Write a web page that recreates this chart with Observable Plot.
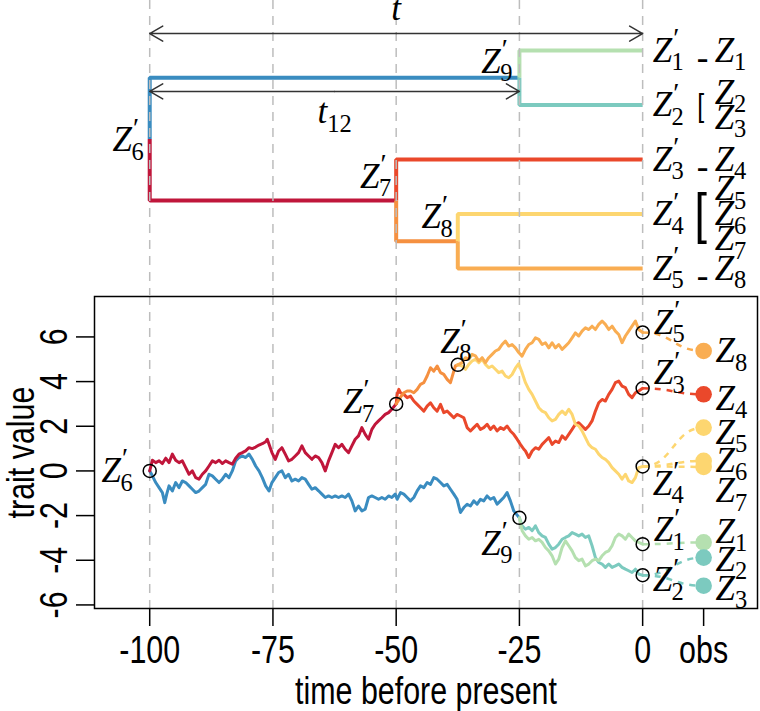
<!DOCTYPE html>
<html><head><meta charset="utf-8">
<script src="https://cdn.jsdelivr.net/npm/d3@7"></script>
<script src="https://cdn.jsdelivr.net/npm/@observablehq/plot@0.6"></script>
<style>
body{margin:0;background:#fff;}
#chart svg{display:block;}
</style></head><body><div id="chart"></div>
<script>
// ---------------- DATA ----------------
const gridTimes = [-100, -75, -50, -25, 0];
const obsTime = 12.37;
const yTicks = [-6, -4, -2, 0, 2, 4, 6];

// tree nodes (time before present, row in tip units)
const treeNodes = [
  {name: "Z'_6", time: -100, row: 2.625},
  {name: "Z'_7", time: -50, row: 3.75},
  {name: "Z'_8", time: -37.5, row: 4.5},
  {name: "Z'_9", time: -25, row: 1.5},
  {name: "Z'_1", time: 0, row: 1},
  {name: "Z'_2", time: 0, row: 2},
  {name: "Z'_3", time: 0, row: 3},
  {name: "Z'_4", time: 0, row: 4},
  {name: "Z'_5", time: 0, row: 5}
];
const treeEdges = [
  ["Z'_6", "Z'_9"], ["Z'_6", "Z'_7"], ["Z'_9", "Z'_1"], ["Z'_9", "Z'_2"],
  ["Z'_7", "Z'_3"], ["Z'_7", "Z'_8"], ["Z'_8", "Z'_4"], ["Z'_8", "Z'_5"]
];
const spans = [
  {name: "t", from: -100, to: 0},
  {name: "t_12", from: -100, to: -25}
];

// trait values at nodes
const nodeValue = {"Z'_6": 0, "Z'_7": 3.0, "Z'_8": 4.75, "Z'_9": -2.1,
  "Z'_1": -3.28, "Z'_2": -4.67, "Z'_3": 3.7, "Z'_4": 0.2, "Z'_5": 6.2};

// observations
const observations = [
  {name: "Z_1", value: -3.2, from: "Z'_1"},
  {name: "Z_2", value: -3.88, from: "Z'_2"},
  {name: "Z_3", value: -5.14, from: "Z'_2"},
  {name: "Z_4", value: 3.43, from: "Z'_3"},
  {name: "Z_5", value: 1.94, from: "Z'_4"},
  {name: "Z_6", value: 0.45, from: "Z'_4"},
  {name: "Z_7", value: 0.18, from: "Z'_4"},
  {name: "Z_8", value: 5.37, from: "Z'_5"}
];

// Brownian paths [time, value]
const walkZ6Z7 = [[-100,0],[-99.45,0.48],[-98.78,0.37],[-98.1,0.45],[-97.43,0.33],[-96.75,0.57],[-96.08,0.37],[-95.4,0.75],[-94.73,0.48],[-94.05,0.37],[-93.38,0.45],[-92.7,0.15],[-92.02,-0.15],[-91.35,0],[-90.67,-0.3],[-90,-0.37],[-89.32,-0.15],[-88.65,0],[-87.97,0.22],[-87.29,0.45],[-86.62,0.37],[-85.94,0.48],[-85.27,0.33],[-84.59,0.45],[-83.91,0.37],[-83.24,0.3],[-82.56,0.57],[-81.89,0.75],[-81.21,0.82],[-80.54,0.9],[-79.86,1.04],[-79.18,1.0],[-78.51,1.07],[-77.83,1.16],[-77.16,1.22],[-76.48,1.31],[-76.15,1.42],[-75.2,0.82],[-74.53,0.52],[-73.85,0.89],[-73.18,1.04],[-72.5,0.75],[-71.83,0.45],[-71.15,0.52],[-70.47,0.67],[-69.8,0.82],[-69.12,1.12],[-68.45,0.82],[-67.77,0.67],[-67.1,0.52],[-66.42,0.67],[-65.75,0.6],[-65.07,0.37],[-64.39,0],[-63.72,0.45],[-63.04,0.82],[-62.37,1.19],[-61.69,1.04],[-61.01,1.19],[-60.34,0.97],[-59.66,0.82],[-58.99,1.12],[-58.31,1.42],[-57.64,1.57],[-56.96,1.94],[-56.28,1.64],[-55.61,1.42],[-54.93,1.86],[-54.26,2.09],[-53.58,2.24],[-52.91,2.38],[-52.23,2.53],[-51.55,2.61],[-50.88,2.76],[-50,3.0]];
const walkZ6Z9 = [[-100,0],[-99.45,-0.22],[-98.78,-0.52],[-98.1,-0.75],[-97.43,-0.97],[-96.95,-1.42],[-96.55,-1.04],[-96.08,-0.67],[-95.4,-0.9],[-94.73,-0.52],[-94.05,-0.75],[-93.38,-0.45],[-92.7,-0.52],[-92.02,-0.67],[-91.35,-0.82],[-90.67,-0.97],[-90,-0.9],[-89.32,-0.75],[-88.65,-0.6],[-87.97,-0.15],[-87.29,-0.22],[-86.62,-0.37],[-85.94,-0.52],[-85.27,-0.37],[-84.59,-0.15],[-83.91,-0.3],[-83.24,0],[-82.56,0.45],[-81.89,0.6],[-81.21,0.67],[-80.54,0.6],[-79.86,0.75],[-79.18,0.52],[-78.51,0.22],[-77.83,0],[-77.16,-0.3],[-76.48,-0.67],[-75.8,-0.9],[-75.2,-0.52],[-74.53,-0.3],[-73.85,-0.07],[-73.18,0],[-72.5,-0.3],[-71.83,-0.15],[-71.15,-0.45],[-70.47,-0.37],[-69.8,-0.45],[-69.12,-0.3],[-68.45,-0.37],[-67.77,-0.6],[-67.1,-0.82],[-66.42,-0.75],[-65.75,-0.89],[-65.07,-1.04],[-64.39,-1.19],[-63.72,-1.12],[-63.04,-1.19],[-62.37,-1.12],[-61.69,-1.19],[-61.01,-1.12],[-60.34,-1.19],[-59.66,-1.04],[-58.99,-1.34],[-58.31,-1.79],[-57.64,-1.57],[-56.96,-1.79],[-56.28,-1.71],[-55.61,-1.19],[-54.93,-1.12],[-54.26,-1.19],[-53.58,-1.27],[-52.91,-1.19],[-52.23,-1.27],[-51.55,-1.12],[-50.88,-1.19],[-50.2,-1.04],[-49.8,-1.27],[-49.12,-0.97],[-48.45,-1.04],[-47.77,-1.19],[-47.1,-1.34],[-46.42,-1.19],[-45.74,-0.89],[-45.07,-0.67],[-44.39,-0.75],[-43.72,-0.52],[-43.04,-0.6],[-42.37,-0.3],[-41.69,-0.37],[-41.01,-0.52],[-40.34,-0.67],[-39.66,-0.6],[-38.99,-0.82],[-38.31,-1.04],[-37.64,-1.27],[-36.96,-1.86],[-36.28,-1.64],[-35.61,-1.49],[-34.93,-1.57],[-34.26,-1.34],[-33.58,-1.49],[-32.91,-1.27],[-32.23,-1.34],[-31.55,-1.12],[-30.88,-1.27],[-30.2,-1.19],[-29.53,-1.49],[-28.85,-1.34],[-28.18,-1.19],[-27.5,-0.97],[-26.83,-1.34],[-26.15,-1.79],[-25,-2.1]];
const walkZ7Z3 = [[-50,3.0],[-49.8,3.43],[-49.46,3.65],[-49.12,3.5],[-48.45,3.43],[-47.77,3.28],[-47.1,3.35],[-46.42,3.13],[-45.74,2.98],[-45.07,2.83],[-44.39,2.68],[-43.72,2.9],[-43.04,3.05],[-42.37,2.83],[-41.69,2.68],[-41.01,2.98],[-40.34,2.61],[-39.66,2.68],[-38.99,2.53],[-38.31,2.38],[-37.64,2.53],[-36.96,2.46],[-36.28,2.38],[-35.61,1.94],[-34.93,1.79],[-34.26,1.94],[-33.58,2.09],[-32.91,1.86],[-32.23,1.94],[-31.55,2.09],[-30.88,1.86],[-30.2,2.01],[-29.53,1.79],[-28.85,1.94],[-28.18,1.86],[-27.5,2.01],[-26.83,1.79],[-26.15,1.64],[-25.47,1.42],[-24.8,1.19],[-24.1,0.97],[-23.77,0.89],[-23.1,0.6],[-22.42,0.89],[-21.75,1.04],[-21.07,0.97],[-20.39,1.19],[-19.72,1.34],[-19.04,1.49],[-18.37,1.19],[-17.69,1.34],[-17.02,1.27],[-16.34,1.57],[-15.66,1.42],[-14.99,1.64],[-14.31,1.86],[-13.64,2.09],[-12.96,2.16],[-12.29,2.01],[-11.61,1.86],[-10.93,2.01],[-10.26,2.24],[-9.58,2.68],[-8.91,3.05],[-8.23,3.2],[-7.56,3.13],[-6.88,3.43],[-6.2,3.65],[-5.53,3.95],[-4.85,4.02],[-4.18,3.8],[-3.5,3.73],[-2.83,3.43],[-2.15,3.28],[-1.47,3.5],[-0.8,3.58],[0,3.7]];
const walkZ7Z8 = [[-50,3.0],[-49.12,3.3],[-48.45,3.5],[-47.77,3.58],[-47.1,3.58],[-46.42,3.5],[-45.74,3.65],[-45.07,3.88],[-44.39,3.95],[-43.72,4.25],[-43.04,4.62],[-42.37,4.47],[-41.69,4.7],[-41.01,4.4],[-40.34,4.32],[-39.66,4.1],[-38.99,3.95],[-38.31,4.47],[-37.98,4.7],[-37.5,4.75]];
const walkZ8Z5 = [[-37.5,4.75],[-36.62,4.85],[-35.95,5.07],[-35.27,5.0],[-34.6,5.22],[-33.92,5.15],[-33.24,4.92],[-32.57,5.07],[-31.89,4.85],[-31.22,5.07],[-30.54,5.22],[-29.87,5.37],[-29.19,5.44],[-28.51,5.66],[-27.84,5.81],[-27.16,5.59],[-26.49,5.66],[-25.81,5.51],[-25.14,5.3],[-24.46,5.14],[-23.77,5.44],[-23.1,5.66],[-22.42,5.74],[-21.75,5.96],[-21.07,5.89],[-20.39,5.66],[-19.72,5.74],[-19.04,5.51],[-18.37,5.74],[-17.69,5.51],[-17.02,5.66],[-16.34,5.44],[-15.66,5.59],[-14.99,5.74],[-14.31,5.96],[-13.64,6.18],[-12.96,6.04],[-12.29,6.26],[-11.61,6.41],[-10.93,6.33],[-10.26,6.48],[-9.58,6.33],[-8.91,6.56],[-8.23,6.71],[-7.56,6.56],[-6.88,6.33],[-6.2,6.48],[-5.53,6.26],[-4.85,6.11],[-4.18,5.74],[-3.5,6.04],[-2.83,6.26],[-2.15,6.48],[-1.47,6.71],[-0.8,6.33],[0,6.2]];
const walkZ8Z4 = [[-37.5,4.75],[-36.62,4.7],[-35.95,4.55],[-35.27,4.77],[-34.6,4.92],[-33.92,5.0],[-33.24,4.85],[-32.57,5.0],[-31.89,4.77],[-31.22,4.62],[-30.54,4.7],[-29.87,4.55],[-29.19,4.4],[-28.51,4.47],[-27.84,4.25],[-27.16,4.17],[-26.49,4.32],[-25.81,4.6],[-25.14,4.8],[-24.45,4.4],[-23.77,3.95],[-23.1,3.65],[-22.42,3.43],[-21.75,3.13],[-21.07,2.83],[-20.39,2.68],[-19.72,2.61],[-19.04,2.38],[-18.37,2.24],[-17.69,2.31],[-17.02,2.53],[-16.34,2.68],[-15.66,2.53],[-14.99,2.76],[-14.31,2.53],[-13.64,2.09],[-12.96,2.01],[-12.29,1.79],[-11.61,1.49],[-10.93,1.19],[-10.26,1.04],[-9.58,0.97],[-8.91,0.75],[-8.23,0.6],[-7.56,0.52],[-6.88,0.37],[-6.2,0.15],[-5.53,0],[-4.85,-0.15],[-4.18,-0.37],[-3.5,-0.15],[-2.83,-0.45],[-2.15,-0.52],[-1.47,-0.3],[-0.8,0.15],[0,0.2]];
const walkZ9Z2 = [[-25,-2.1],[-24.45,-2.46],[-23.77,-2.61],[-23.1,-2.53],[-22.42,-2.68],[-21.75,-2.46],[-21.07,-2.76],[-20.39,-2.91],[-19.72,-2.98],[-19.04,-3.28],[-18.37,-3.5],[-17.69,-3.43],[-17.02,-3.28],[-16.34,-3.06],[-15.66,-2.98],[-14.99,-2.91],[-14.31,-2.76],[-13.64,-2.83],[-12.96,-2.91],[-12.29,-2.83],[-11.61,-2.98],[-10.93,-2.91],[-10.26,-3.35],[-9.58,-3.88],[-8.91,-4.1],[-8.23,-4.17],[-7.56,-4.32],[-6.88,-4.17],[-6.2,-4.32],[-5.53,-4.25],[-4.85,-4.17],[-4.18,-4.32],[-3.5,-4.4],[-2.83,-4.47],[-2.15,-4.55],[-1.47,-4.4],[-0.8,-4.62],[0,-4.67]];
const walkZ9Z1 = [[-25,-2.1],[-24.45,-2.68],[-23.77,-2.91],[-23.1,-3.06],[-22.42,-2.98],[-21.75,-3.13],[-21.07,-3.06],[-20.39,-3.2],[-19.72,-3.43],[-19.04,-3.58],[-18.37,-3.8],[-17.69,-4.17],[-17.02,-3.95],[-16.34,-3.43],[-15.66,-3.13],[-14.99,-3.35],[-14.31,-3.58],[-13.64,-3.88],[-12.96,-4.02],[-12.29,-3.95],[-11.61,-4.25],[-10.93,-4.17],[-10.26,-4.02],[-9.58,-3.95],[-8.91,-4.02],[-8.23,-3.8],[-7.56,-3.65],[-6.88,-3.58],[-6.2,-3.35],[-5.53,-2.98],[-4.85,-2.83],[-4.18,-2.91],[-3.5,-3.06],[-2.83,-2.83],[-2.15,-2.98],[-1.47,-3.13],[-0.8,-3.2],[0,-3.28]];
const walks = [
  {child: "Z'_9", pts: walkZ6Z9}, {child: "Z'_7", pts: walkZ6Z7},
  {child: "Z'_3", pts: walkZ7Z3}, {child: "Z'_8", pts: walkZ7Z8},
  {child: "Z'_4", pts: walkZ8Z4}, {child: "Z'_5", pts: walkZ8Z5},
  {child: "Z'_2", pts: walkZ9Z2}, {child: "Z'_1", pts: walkZ9Z1}
];

// ---------------- STYLE ----------------
const colorOf = {
  "Z'_9": "#3a8cc0", "Z'_7": "#c0163b", "Z'_1": "#b5e0b0", "Z'_2": "#7ccabf",
  "Z'_3": "#ea482b", "Z'_8": "#f59040", "Z'_4": "#fdd670", "Z'_5": "#f9ad52"
};
const sansFont = "'Liberation Sans', Arimo, Arial, sans-serif";
const mathFont = "'Liberation Serif', 'DejaVu Serif', serif";
const condense = 0.8;
const axisFs = 38, mathFs = 35;
const math = {fontFamily: mathFont, fontSize: mathFs, fill: "black", ariaDescription: "math"};
const gridStyle = {stroke: "#bdbdbd", strokeWidth: 1.5, strokeDasharray: "9,7"};
const xDomain = [-111.2, 23.3];
const spanRow = {"t": 0.69, "t_12": 1.75};
const stackGap = 0.46;
const treeLabelPos = {
  "Z'_6": {dx: -6, dy: 1}, "Z'_7": {dx: -5, dy: -24},
  "Z'_8": {dx: -5, dy: -24}, "Z'_9": {dx: -7, dy: -16}
};
const plotLabelPos = {
  "Z'_6": {a: "end", dx: -17, dy: 0}, "Z'_7": {a: "end", dx: -22, dy: -2},
  "Z'_8": {a: "middle", dx: -2, dy: -23}, "Z'_9": {a: "end", dx: -7, dy: 26},
  "Z'_5": {a: "start", dx: 11, dy: -10}, "Z'_3": {a: "start", dx: 11, dy: -15},
  "Z'_4": {a: "start", dx: 10, dy: 17}, "Z'_1": {a: "start", dx: 11, dy: -14},
  "Z'_2": {a: "start", dx: 10, dy: 5}
};
const obsLabelDy = {Z_8: 0, Z_4: 4, Z_5: 5, Z_6: 0, Z_7: 24, Z_1: -11, Z_2: 2, Z_3: 3};
const bracketFs = {2: 31, 3: 56};
const bracketDy = {2: 1, 3: 0};

// ---------------- DERIVED ----------------
const nodeBy = Object.fromEntries(treeNodes.map(n => [n.name, n]));
const treeRows = treeEdges.flatMap(([p, c]) => {
  const P = nodeBy[p], C = nodeBy[c], col = colorOf[c];
  return [
    {edge: c, x: P.time, y: P.row, color: col},
    {edge: c, x: P.time, y: C.row, color: col},
    {edge: c, x: C.time, y: C.row, color: col}
  ];
});
const arrowRows = spans.flatMap(s => {
  const mid = (s.from + s.to) / 2;
  return [{x1: mid, x2: s.from, y: spanRow[s.name]}, {x1: mid, x2: s.to, y: spanRow[s.name]}];
});
const tips = treeNodes.filter(n => n.time === 0);
const internal = treeNodes.filter(n => n.time !== 0);
const childrenOf = tip => observations.filter(o => o.from === tip.name);
const singleTips = tips.filter(t => childrenOf(t).length === 1);
const multiTips = tips.filter(t => childrenOf(t).length > 1);
const stackRows = tips.flatMap(t => {
  const ch = childrenOf(t), n = ch.length;
  return ch.map((o, j) => ({time: t.time, row: t.row, name: o.name, k: j - (n - 1) / 2}));
});
const walkRows = walks.flatMap(w => w.pts.map(([t, v]) => ({child: w.child, t, v})));
const plotNodes = treeNodes.map(n => ({name: n.name, time: n.time, value: nodeValue[n.name]}));

// ---------------- TOP: TREE ----------------
const topPlot = Plot.plot({
  width: 760, height: 295,
  marginLeft: 94, marginRight: 3, marginTop: 0, marginBottom: 0,
  x: {domain: xDomain, axis: null, label: null},
  y: {domain: [1, 5], range: [50, 268], axis: null, label: null},
  color: {type: "identity"},
  style: {background: "white"},
  marks: [
    Plot.line(treeRows, {x: "x", y: "y", z: "edge", stroke: "color", strokeWidth: 4, strokeLinejoin: "miter", strokeLinecap: "butt"}),
    Plot.ruleX(gridTimes, gridStyle),
    Plot.arrow(arrowRows, {x1: "x1", x2: "x2", y1: "y", y2: "y", stroke: "#333", strokeWidth: 1.5, headLength: 15}),
    Plot.text(spans.filter(s => s.name === "t"), {x: s => (s.from + s.to) / 2, y: s => spanRow[s.name], text: "name", lineAnchor: "bottom", dy: -14, ...math}),
    Plot.text(spans.filter(s => s.name !== "t"), {x: s => (s.from + s.to) / 2, y: s => spanRow[s.name], text: "name", lineAnchor: "bottom", dy: 32, ...math}),
    ...internal.map(n => Plot.text([n], {x: "time", y: "row", text: "name", textAnchor: "end", dx: treeLabelPos[n.name].dx, dy: treeLabelPos[n.name].dy, ...math})),
    Plot.text(tips, {x: "time", y: "row", text: "name", textAnchor: "start", dx: 10, ...math}),
    Plot.text(singleTips, {x: "time", y: "row", text: () => "-", textAnchor: "middle", dx: 60, dy: 7, fontFamily: mathFont, fontSize: mathFs, ariaDescription: "plain"}),
    ...multiTips.map(t => {
      const n = childrenOf(t).length;
      return Plot.text([t], {x: "time", y: "row", text: () => "[", textAnchor: "middle", dx: 58, dy: bracketDy[n], fontFamily: sansFont, fontSize: bracketFs[n]});
    }),
    Plot.text(stackRows, {x: "time", y: d => d.row + d.k * stackGap, text: "name", textAnchor: "start", dx: 72, ...math})
  ]
});

// ---------------- BOTTOM: TRAIT PATHS ----------------
const bottomPlot = Plot.plot({
  width: 760, height: 416,
  marginLeft: 94, marginRight: 3, marginTop: 1, marginBottom: 103,
  x: {domain: xDomain, label: null},
  y: {domain: [-6.16, 7.81], label: null},
  color: {type: "identity"},
  style: {background: "white", fontFamily: sansFont},
  marks: [
    Plot.ruleX(gridTimes, gridStyle),
    Plot.line(walkRows, {x: "t", y: "v", z: "child", stroke: d => colorOf[d.child], strokeWidth: 3, strokeLinejoin: "round"}),
    Plot.link(observations, {x1: d => nodeBy[d.from].time, y1: d => nodeValue[d.from], x2: () => obsTime, y2: "value", curve: "bump-x", stroke: d => colorOf[d.from], strokeWidth: 2.5, strokeDasharray: "6,6"}),
    Plot.dot(observations, {x: () => obsTime, y: "value", r: 8.3, fill: d => colorOf[d.from]}),
    Plot.dot(plotNodes, {x: "time", y: "value", r: 6.5, stroke: "black", strokeWidth: 1.5, fill: "none"}),
    Plot.frame({stroke: "black", strokeWidth: 1.5}),
    Plot.axisX([...gridTimes, obsTime], {tickSize: 18, tickPadding: 10, strokeWidth: 1.5, tickFormat: d => d === obsTime ? "obs" : String(d), fontSize: axisFs, fontFamily: sansFont, label: null}),
    Plot.axisY(yTicks, {tickSize: 18, strokeWidth: 1.5, tickFormat: () => "", label: null}),
    Plot.text(yTicks, {y: d => d, text: d => String(d), frameAnchor: "left", textAnchor: "middle", lineAnchor: "middle", dx: -40, rotate: -90, fontSize: axisFs, fontFamily: sansFont}),
    Plot.text(["time before present"], {frameAnchor: "bottom", textAnchor: "middle", lineAnchor: "middle", dy: 83, fontSize: axisFs, fontFamily: sansFont}),
    Plot.text(["trait value"], {frameAnchor: "left", textAnchor: "middle", lineAnchor: "middle", dx: -73, rotate: -90, fontSize: axisFs, fontFamily: sansFont}),
    ...plotNodes.map(n => Plot.text([n], {x: "time", y: "value", text: "name", textAnchor: plotLabelPos[n.name].a, dx: plotLabelPos[n.name].dx, dy: plotLabelPos[n.name].dy, ...math})),
    ...observations.map(o => Plot.text([o], {x: () => obsTime, y: "value", text: "name", textAnchor: "start", dx: 12, dy: obsLabelDy[o.name], ...math}))
  ]
});

// ---------------- math-style labels (primes & subscripts as tspans) ----------------
function mathify(root) {
  const ns = "http://www.w3.org/2000/svg";
  root.querySelectorAll('g[aria-description="math"] text').forEach(el => {
    const g = el.closest("g");
    const fs = parseFloat(g.getAttribute("font-size")) || mathFs;
    const src = el.textContent;
    el.textContent = "";
    let off = 0, afterPrime = false, buf = "";
    const add = (txt, o = {}) => {
      const t = document.createElementNS(ns, "tspan");
      t.textContent = txt;
      const target = o.shift || 0;
      if (target !== off) t.setAttribute("dy", (target - off).toFixed(2));
      off = target;
      if (o.dx) t.setAttribute("dx", o.dx.toFixed(2));
      if (o.size) t.setAttribute("font-size", (fs * o.size).toFixed(2));
      t.setAttribute("font-style", o.italic ? "italic" : "normal");
      el.appendChild(t);
    };
    const flush = () => { if (buf) { add(buf); buf = ""; } };
    let i = 0;
    while (i < src.length) {
      const c = src[i];
      if (c === "Z" || c === "t") { flush(); add(c, {italic: true}); afterPrime = false; i++; }
      else if (c === "'") { flush(); add("\u2032", {size: 0.8, shift: -0.42 * fs, dx: 0.03 * fs}); afterPrime = true; i++; }
      else if (c === "_") {
        flush();
        let j = i + 1;
        while (j < src.length && /[0-9]/.test(src[j])) j++;
        add(src.slice(i + 1, j), {size: 0.7, shift: 0.24 * fs, dx: afterPrime ? -0.22 * fs : 0});
        afterPrime = false; i = j;
      } else { buf += c; i++; }
    }
    flush();
  });
}
// narrow the sans-serif text (condensed look of the original typeface)
function condenseSans(root) {
  root.querySelectorAll("text").forEach(el => {
    const g = el.closest("g[aria-description]");
    if (g && (g.getAttribute("aria-description") === "math" || g.getAttribute("aria-description") === "plain")) return;
    const tr = el.getAttribute("transform") || "";
    el.setAttribute("transform", (tr + ` scale(${condense},1)`).trim());
  });
}
mathify(topPlot);
mathify(bottomPlot);
condenseSans(topPlot);
condenseSans(bottomPlot);
const chart = document.getElementById("chart");
chart.appendChild(topPlot);
chart.appendChild(bottomPlot);
</script>
</body></html>
